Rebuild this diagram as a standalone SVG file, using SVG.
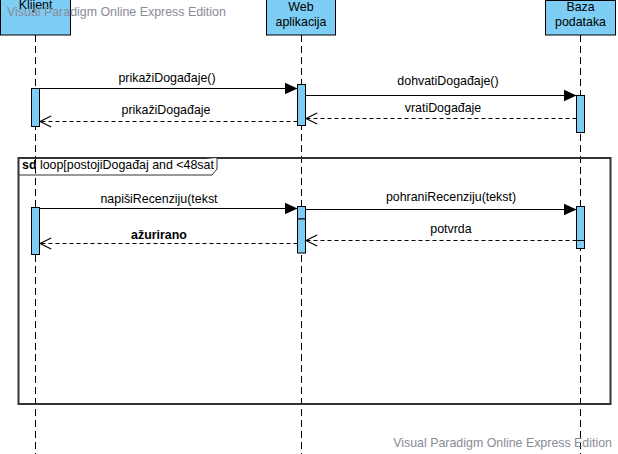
<svg xmlns="http://www.w3.org/2000/svg" width="618" height="454" viewBox="0 0 618 454">
<style>
text{font-family:"Liberation Sans",Arial,sans-serif;font-size:12.4px;fill:#000}
.hdr{fill:#7ecdf4;stroke:#000;stroke-width:1}
.life{stroke:#000;stroke-width:1;stroke-dasharray:7,4;fill:none}
.act{fill:#7ecdf4;stroke:#000;stroke-width:1}
.call{stroke:#000;stroke-width:1.2;fill:none;marker-end:url(#filled)}
.ret{stroke:#000;stroke-width:1.2;stroke-dasharray:4,3;fill:none;marker-end:url(#open)}
.wm{fill:#8a8a96}
.mid{text-anchor:middle}
</style>
<defs>
<marker id="filled" markerUnits="userSpaceOnUse" markerWidth="14" markerHeight="14" refX="13" refY="6" orient="auto" viewBox="0 0 14 12">
<path d="M0,0 L13,6 L0,12 z" fill="#000"/>
</marker>
<marker id="open" markerUnits="userSpaceOnUse" markerWidth="14" markerHeight="14" refX="12" refY="6" orient="auto" viewBox="-1 -1 15 14">
<polyline points="0,0 12,6 0,12" fill="none" stroke="#000" stroke-width="1.2"/>
</marker>
</defs>
<g id="lifelines">
<line class="life" x1="35.5" y1="35" x2="35.5" y2="454"/>
<line class="life" x1="301.5" y1="35" x2="301.5" y2="454"/>
<line class="life" x1="580.5" y1="35" x2="580.5" y2="454"/>
</g>
<g id="loop-frame">
<rect x="18.5" y="158" width="592" height="246" fill="none" stroke="#333" stroke-width="2"/>
<path d="M18.5,175 L212,175 L217,169 L217,158" fill="#fff" stroke="#333" stroke-width="1"/>
<text x="22" y="169"><tspan font-weight="bold">sd</tspan> loop[postojiDogađaj and &lt;48sat</text>
</g>
<g id="activations">
<rect class="act" x="31.5" y="88.5" width="8" height="38"/>
<rect class="act" x="297.5" y="84.5" width="8" height="41"/>
<rect class="act" x="576.5" y="95.5" width="8" height="37"/>
<rect class="act" x="31.5" y="207.5" width="8" height="47"/>
<rect class="act" x="297.5" y="206.5" width="8" height="12.5"/>
<rect class="act" x="297.5" y="219" width="8" height="34"/>
<rect class="act" x="576.5" y="206.5" width="8" height="34"/>
<rect class="act" x="576.5" y="240.5" width="8" height="8"/>
</g>
<g id="connectors">
<line class="call" x1="39.5" y1="88.5" x2="297.5" y2="88.5"/>
<line class="ret" x1="297.5" y1="121.5" x2="40" y2="121.5"/>
<line class="call" x1="305.5" y1="95.5" x2="576.5" y2="95.5"/>
<line class="ret" x1="576.5" y1="118.5" x2="306" y2="118.5"/>
<line class="call" x1="39.5" y1="208.5" x2="297.5" y2="208.5"/>
<line class="ret" x1="297.5" y1="243.5" x2="40" y2="243.5"/>
<line class="call" x1="305.5" y1="209.5" x2="576.5" y2="209.5"/>
<line class="ret" x1="576.5" y1="240.5" x2="306" y2="240.5"/>
<text class="mid" x="167" y="82">prikažiDogađaje()</text>
<text class="mid" x="166" y="114">prikažiDogađaje</text>
<text class="mid" x="448" y="85">dohvatiDogađaje()</text>
<text class="mid" x="443" y="112">vratiDogađaje</text>
<text class="mid" x="159" y="203">napišiRecenziju(tekst</text>
<text class="mid" x="159" y="239" font-weight="bold">ažurirano</text>
<text class="mid" x="451" y="201">pohraniRecenziju(tekst)</text>
<text class="mid" x="451" y="233">potvrda</text>
</g>
<g id="klijent">
<rect class="hdr" x="0.5" y="-1" width="70" height="36"/>
<text class="mid" x="35.5" y="9">Klijent</text>
</g>
<g id="web-aplikacija">
<rect class="hdr" x="266.5" y="-1" width="69" height="36"/>
<text class="mid" x="301" y="11">Web</text>
<text class="mid" x="301" y="26">aplikacija</text>
</g>
<g id="baza-podataka">
<rect class="hdr" x="545.5" y="0.5" width="70" height="34.5"/>
<text class="mid" x="580.5" y="11">Baza</text>
<text class="mid" x="580.5" y="26">podataka</text>
</g>
<text class="wm" x="7" y="16">Visual Paradigm Online Express Edition</text>
<text class="wm" x="612" y="447" text-anchor="end">Visual Paradigm Online Express Edition</text>
</svg>
